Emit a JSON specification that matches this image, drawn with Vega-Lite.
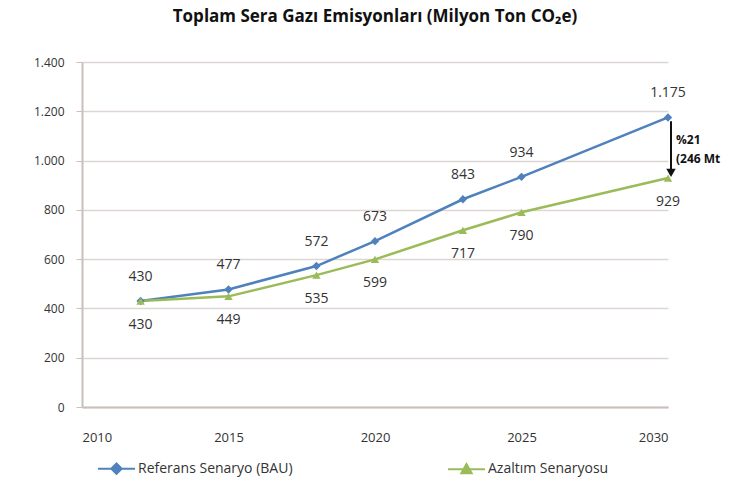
{
  "$schema": "https://vega.github.io/schema/vega-lite/v6.json",
  "width": 586,
  "height": 345,
  "padding": {"left": 33, "top": 8, "right": 0, "bottom": 5},
  "background": "white",
  "config": {
    "locale": {"number": {"decimal": ",", "thousands": ".", "grouping": [3], "currency": ["", ""]}},
    "view": {"stroke": null},
    "font": "Open Sans"
  },
  "title": {
    "text": "Toplam Sera Gazı Emisyonları (Milyon Ton CO₂e)",
    "fontSize": 17,
    "fontWeight": "bold",
    "color": "#111111",
    "font": "Open Sans",
    "offset": 30,
    "anchor": "middle"
  },
  "data": {
    "values": [
      {"year": 2012, "value": 430, "series": "Referans Senaryo (BAU)"},
      {"year": 2015, "value": 477, "series": "Referans Senaryo (BAU)"},
      {"year": 2018, "value": 572, "series": "Referans Senaryo (BAU)"},
      {"year": 2020, "value": 673, "series": "Referans Senaryo (BAU)"},
      {"year": 2023, "value": 843, "series": "Referans Senaryo (BAU)"},
      {"year": 2025, "value": 934, "series": "Referans Senaryo (BAU)"},
      {"year": 2030, "value": 1175, "series": "Referans Senaryo (BAU)"},
      {"year": 2012, "value": 430, "series": "Azaltım Senaryosu"},
      {"year": 2015, "value": 449, "series": "Azaltım Senaryosu"},
      {"year": 2018, "value": 535, "series": "Azaltım Senaryosu"},
      {"year": 2020, "value": 599, "series": "Azaltım Senaryosu"},
      {"year": 2023, "value": 717, "series": "Azaltım Senaryosu"},
      {"year": 2025, "value": 790, "series": "Azaltım Senaryosu"},
      {"year": 2030, "value": 929, "series": "Azaltım Senaryosu"}
    ]
  },
  "encoding": {
    "x": {
      "field": "year", "type": "quantitative",
      "scale": {"domain": [2010, 2030], "nice": false, "zero": false},
      "axis": {
        "title": null, "values": [2010, 2015, 2020, 2025, 2030], "format": "d",
        "grid": false, "domainColor": "#c8c0bc", "domainWidth": 2, "ticks": false,
        "labelPadding": 24, "labelFontSize": 13, "labelColor": "#333333", "labelFont": "Open Sans"
      }
    },
    "y": {
      "field": "value", "type": "quantitative",
      "scale": {"domain": [0, 1400], "nice": false},
      "axis": {
        "title": null, "values": [0, 200, 400, 600, 800, 1000, 1200, 1400], "format": ",d",
        "gridColor": "#ddd6d2", "gridWidth": 1.5, "domainColor": "#c8c0bc", "domainWidth": 2,
        "tickColor": "#c8c0bc", "tickSize": 6, "labelPadding": 12,
        "labelFontSize": 12, "labelColor": "#333333", "labelFont": "Open Sans"
      }
    }
  },
  "layer": [
    {
      "mark": {"type": "line", "strokeWidth": 2.5},
      "encoding": {
        "color": {
          "field": "series", "type": "nominal",
          "scale": {"domain": ["Referans Senaryo (BAU)", "Azaltım Senaryosu"], "range": ["#4f81bd", "#9bbb59"]},
          "legend": {
            "title": null, "orient": "none", "legendX": 26, "legendY": 398, "direction": "horizontal",
            "columnPadding": 150, "labelFontSize": 14, "labelColor": "#333333", "labelFont": "Open Sans",
            "symbolSize": 220, "symbolStrokeWidth": 2, "labelLimit": 300, "labelOffset": 13,
            "encode": {
              "symbols": {
                "update": {
                  "shape": {"signal": "datum.value === 'Referans Senaryo (BAU)' ? 'M-2.5,0H2.5M0,-0.7L0.7,0L0,0.7L-0.7,0Z' : 'M-2.5,0H2.5M0,-0.7L0.7,0.55H-0.7Z'"},
                  "fill": {"scale": "color", "field": "value"},
                  "stroke": {"scale": "color", "field": "value"},
                  "strokeWidth": {"value": 2},
                  "strokeOpacity": {"value": 1},
                  "opacity": {"value": 1}
                }
              }
            }
          }
        }
      }
    },
    {
      "transform": [{"filter": "datum.series === 'Referans Senaryo (BAU)'"}],
      "mark": {"type": "point", "shape": "diamond", "filled": true, "size": 70, "opacity": 1, "color": "#4f81bd"}
    },
    {
      "transform": [{"filter": "datum.series === 'Azaltım Senaryosu'"}],
      "mark": {"type": "point", "shape": "triangle-up", "filled": true, "size": 70, "opacity": 1, "color": "#9bbb59"}
    },
    {
      "transform": [{"filter": "datum.series === 'Referans Senaryo (BAU)'"}],
      "mark": {"type": "text", "dy": -24, "fontSize": 14, "color": "#333333", "font": "Open Sans"},
      "encoding": {"text": {"field": "value", "type": "quantitative", "format": ",d"}}
    },
    {
      "transform": [{"filter": "datum.series === 'Azaltım Senaryosu'"}],
      "mark": {"type": "text", "dy": 24, "fontSize": 14, "color": "#333333", "font": "Open Sans"},
      "encoding": {"text": {"field": "value", "type": "quantitative", "format": ",d"}}
    },
    {
      "data": {"values": [{"year": 2030, "top": 1160, "bottom": 960}]},
      "mark": {"type": "rule", "strokeWidth": 2, "color": "#111111", "xOffset": 3},
      "encoding": {
        "x": {"field": "year", "type": "quantitative"},
        "y": {"field": "top", "type": "quantitative"},
        "y2": {"field": "bottom"}
      }
    },
    {
      "data": {"values": [{"year": 2030, "bottom": 950}]},
      "mark": {"type": "point", "shape": "triangle-down", "filled": true, "size": 90, "color": "#111111", "opacity": 1, "xOffset": 3},
      "encoding": {
        "x": {"field": "year", "type": "quantitative"},
        "y": {"field": "bottom", "type": "quantitative"}
      }
    },
    {
      "data": {"values": [{"year": 2030, "pos": 1085, "note": "%21"}, {"year": 2030, "pos": 1005, "note": "(246 Mt"}]},
      "mark": {"type": "text", "align": "left", "dx": 8, "fontSize": 12, "fontWeight": "bold", "color": "#111111", "font": "Open Sans"},
      "encoding": {
        "x": {"field": "year", "type": "quantitative"},
        "y": {"field": "pos", "type": "quantitative"},
        "text": {"field": "note"}
      }
    }
  ]
}
